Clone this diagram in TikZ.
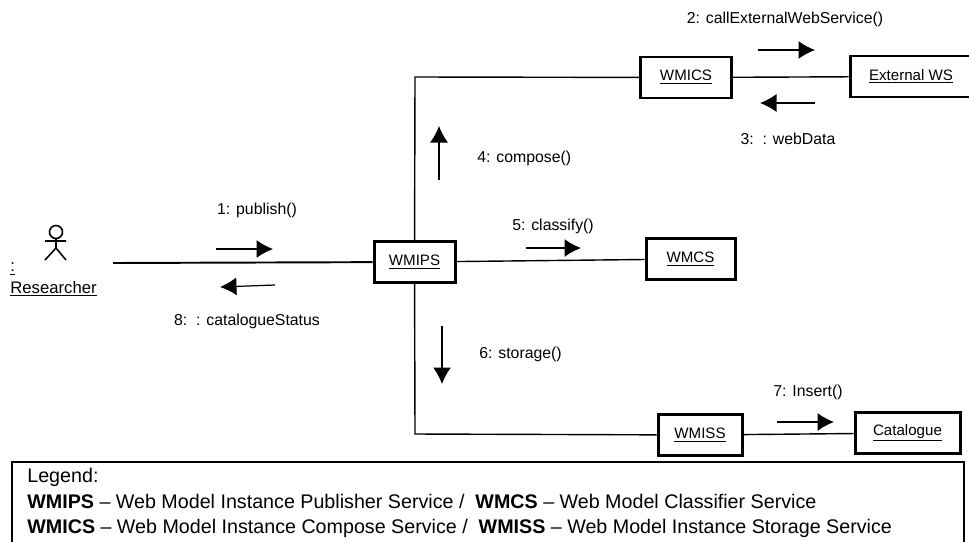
\documentclass[tikz,border=0pt]{standalone}
\usepackage{fontspec}
\setmainfont{Liberation Sans}
\usetikzlibrary{arrows.meta}
\tikzset{
	service/.style={draw,line width=1.7pt,inner sep=0pt,minimum height=0.82cm,font=\fontsize{8.6}{10}\selectfont},
	msg/.style={font=\fontsize{9}{11}\selectfont},
	flow/.style={-{Latex[length=0.33cm,width=0.36cm]},line width=0.7pt},
	link/.style={line width=0.8pt}
}
\begin{document}
\begin{tikzpicture}
	    \useasboundingbox (0,0) rectangle (19.38,-10.82);
	    % services
	    \node [service,minimum width=1.62cm] (wmips) at (8.29,-5.24) {\underline{WMIPS}};
	    \node [service,minimum width=1.82cm] (wmics) at (13.72,-1.55) {\underline{WMICS}};
	    \node [service,minimum width=2.44cm] (ext) at (18.22,-1.53) {\underline{External WS}};
	    \node [service,minimum width=1.78cm] (wmcs) at (13.81,-5.18) {\underline{WMCS}};
	    \node [service,minimum width=1.68cm] (wmiss) at (14,-8.7) {\underline{WMISS}};
	    \node [service,minimum width=2.1cm] (cat) at (18.15,-8.66) {\underline{Catalogue}};
	    % actor
	    \coordinate (head) at (1.12,-4.64);
	    \coordinate (hip) at (1.12,-4.96);
	    \coordinate (neck) at (1.12,-4.77);
	    \coordinate (armL) at (0.9,-4.82);
	    \coordinate (armR) at (1.32,-4.82);
	    \coordinate (legL) at (0.9,-5.2);
	    \coordinate (legR) at (1.32,-5.2);
	    \draw [line width=0.9pt] (head) circle (0.13);
	    \draw [line width=0.9pt] (neck) -- (hip) (armL) -- (armR) (legL) -- (hip) -- (legR);
	    \node [anchor=west,inner sep=0pt,font=\fontsize{9.5}{11}\selectfont] (colon) at (0.2,-5.38) {\underline{:}};
	    \node [anchor=west,inner sep=0pt,font=\fontsize{9.5}{11}\selectfont] (researcher) at (0.2,-5.78) {\underline{Researcher}};
	    % links
	    \coordinate (start) at (2.26,-5.26);
	    \coordinate (upper) at (8.3,-1.54);
	    \coordinate (lower) at (8.3,-8.68);
	    \draw [line width=1.1pt] (start) -- (wmips);
	    \draw [link] (wmips) -- (upper) -- (wmics);
	    \draw [link] (wmips) -- (lower) -- (wmiss);
	    \draw [link] (wmips) -- (wmcs);
	    \draw [link] (wmics) -- (ext);
	    \draw [link] (wmiss) -- (cat);
	    % messages
	    \coordinate (a1) at (4.32,-4.98);
	    \coordinate (b1) at (5.46,-4.98);
	    \draw [flow] (a1) -- (b1);
	    \node [msg] (m1) at (5.14,-4.2) {1: publish()};
	    \coordinate (a2) at (15.16,-1);
	    \coordinate (b2) at (16.3,-1);
	    \draw [flow] (a2) -- (b2);
	    \node [msg] (m2) at (15.7,-0.38) {2: callExternalWebService()};
	    \coordinate (a3) at (16.3,-2.06);
	    \coordinate (b3) at (15.2,-2.06);
	    \draw [flow] (a3) -- (b3);
	    \node [msg] (m3) at (15.76,-2.78) {3:\ \ : webData};
	    \coordinate (a4) at (8.78,-3.6);
	    \coordinate (b4) at (8.78,-2.52);
	    \draw [flow] (a4) -- (b4);
	    \node [msg,anchor=west,inner sep=0pt] (m4) at (9.54,-3.16) {4: compose()};
	    \coordinate (a5) at (10.52,-4.96);
	    \coordinate (b5) at (11.62,-4.96);
	    \draw [flow] (a5) -- (b5);
	    \node [msg] (m5) at (11.06,-4.52) {5: classify()};
	    \coordinate (a6) at (8.84,-6.52);
	    \coordinate (b6) at (8.84,-7.68);
	    \draw [flow] (a6) -- (b6);
	    \node [msg,anchor=west,inner sep=0pt] (m6) at (9.58,-7.08) {6: storage()};
	    \coordinate (a7) at (15.54,-8.44);
	    \coordinate (b7) at (16.68,-8.44);
	    \draw [flow] (a7) -- (b7);
	    \node [msg] (m7) at (16.16,-7.84) {7: Insert()};
	    \coordinate (a8) at (5.5,-5.7);
	    \coordinate (b8) at (4.4,-5.74);
	    \draw [flow] (a8) -- (b8);
	    \node [msg] (m8) at (4.94,-6.42) {8:\ \ : catalogueStatus};
	    % legend
	    \draw [line width=0.8pt] (0.24,-9.24) rectangle (19.28,-10.9);
	    \node [anchor=north west,inner sep=0pt,align=left,font=\fontsize{11.2}{14.6}\selectfont] (legend) at (0.54,-9.36)
	    {Legend:\\
	    \textbf{WMIPS} -- Web Model Instance Publisher Service /\ \ \textbf{WMCS} -- Web Model Classifier Service\\
	    \textbf{WMICS} -- Web Model Instance Compose Service /\ \ \textbf{WMISS} -- Web Model Instance Storage Service};
\end{tikzpicture}
\end{document}
